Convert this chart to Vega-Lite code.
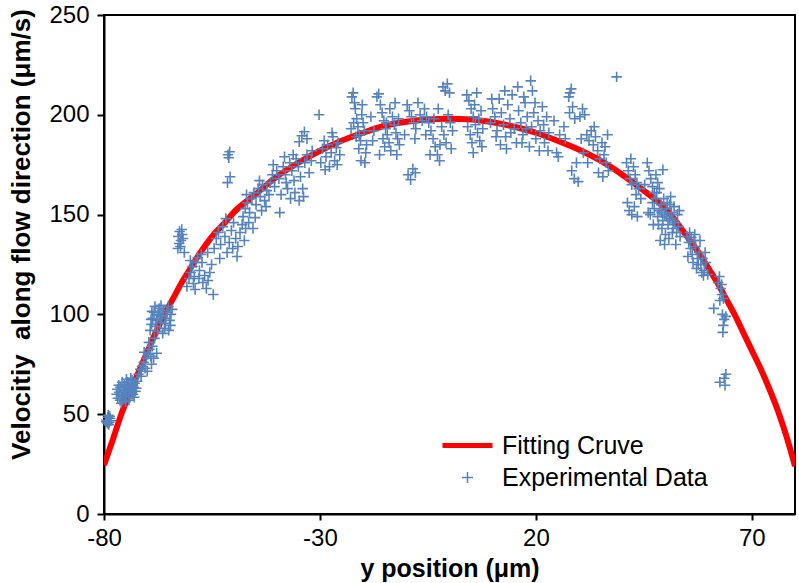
{
"$schema": "https://vega.github.io/schema/vega-lite/v6.json",
"width": 691, "height": 499,
"autosize": {"type": "none"},
"padding": {"left": 104, "top": 15, "right": 4, "bottom": 69},
"background": "white",
"config": {
  "view": {"stroke": "black", "strokeWidth": 2},
  "font": "Liberation Sans",
  "axis": {"grid": false, "domainColor": "black", "domainWidth": 2, "tickColor": "black", "tickWidth": 2, "labelFont": "Liberation Sans", "labelFontSize": 24, "labelColor": "black", "titleFont": "Liberation Sans", "titleFontSize": 25, "titleFontWeight": "bold", "titleColor": "black"}
},
"datasets": {
"curve": [{"x":-80,"v":24.5},{"x":-78,"v":37},{"x":-76,"v":50},{"x":-74,"v":61},{"x":-72,"v":71},{"x":-70,"v":81},{"x":-68,"v":91},{"x":-66,"v":100},{"x":-64,"v":108},{"x":-62,"v":116},{"x":-60,"v":123},{"x":-58,"v":130},{"x":-55,"v":139},{"x":-52,"v":146},{"x":-50,"v":151},{"x":-45,"v":160},{"x":-40,"v":169},{"x":-35,"v":176},{"x":-30,"v":182},{"x":-25,"v":187},{"x":-20,"v":191},{"x":-15,"v":194.5},{"x":-10,"v":196.5},{"x":-5,"v":197.7},{"x":0,"v":198},{"x":5,"v":197.7},{"x":10,"v":196.3},{"x":15,"v":194},{"x":20,"v":191},{"x":25,"v":187},{"x":30,"v":182.5},{"x":35,"v":177},{"x":40,"v":170},{"x":45,"v":162},{"x":50,"v":153},{"x":55,"v":139},{"x":58,"v":130},{"x":60,"v":123},{"x":62,"v":116},{"x":64,"v":108},{"x":66,"v":100},{"x":68,"v":91},{"x":70,"v":82},{"x":72,"v":73},{"x":74,"v":63},{"x":76,"v":52},{"x":78,"v":39},{"x":80,"v":24}],
"pts": [
{"x":-79.4,"v":47},{"x":-79.1,"v":48.5},{"x":-78.8,"v":46},{"x":-79.2,"v":45.5},{"x":-78.6,"v":48},{"x":-79.0,"v":49.5},{"x":-78.4,"v":46.8},{"x":-79.5,"v":46.2},{"x":-78.9,"v":44.8},{"x":-78.7,"v":49},
{"x":-76.8,"v":58},{"x":-76.5,"v":61},{"x":-76.2,"v":63.5},{"x":-75.9,"v":59},{"x":-75.7,"v":57},{"x":-75.5,"v":62},{"x":-75.3,"v":65},{"x":-75.1,"v":60},{"x":-74.9,"v":58.5},{"x":-74.7,"v":63},{"x":-74.5,"v":66},{"x":-74.3,"v":61},{"x":-74.1,"v":59},{"x":-73.9,"v":64},{"x":-73.7,"v":62},{"x":-73.5,"v":67},{"x":-73.3,"v":60},{"x":-73.1,"v":63.5},{"x":-72.9,"v":65.5},{"x":-72.7,"v":61.5},{"x":-76.0,"v":55.5},{"x":-75.0,"v":56.2},{"x":-74.2,"v":57},{"x":-73.0,"v":58.5},{"x":-77.1,"v":60},{"x":-76.6,"v":64.5},{"x":-75.8,"v":66},{"x":-74.8,"v":67.5},{"x":-73.8,"v":68},{"x":-72.5,"v":63},{"x":-75.4,"v":59.5},{"x":-74.6,"v":60.5},{"x":-73.6,"v":60},{"x":-76.3,"v":57},{"x":-74.0,"v":62.5},{"x":-72.3,"v":66.5},{"x":-75.2,"v":63.8},{"x":-73.4,"v":65},{"x":-74.4,"v":64.2},{"x":-76.9,"v":62.5},
{"x":-72.0,"v":70},{"x":-71.6,"v":72.5},{"x":-71.2,"v":74},{"x":-70.8,"v":76},{"x":-70.5,"v":73},{"x":-70.2,"v":78},{"x":-69.8,"v":80},{"x":-69.5,"v":82.5},{"x":-69.2,"v":79},{"x":-68.8,"v":84},{"x":-71.4,"v":69},{"x":-70.0,"v":71.5},{"x":-69.0,"v":75},{"x":-68.5,"v":78},{"x":-67.8,"v":80.5},{"x":-70.7,"v":81},{"x":-69.6,"v":86},{"x":-68.3,"v":88},
{"x":-69.3,"v":92},{"x":-69.0,"v":95},{"x":-68.7,"v":98},{"x":-68.4,"v":101},{"x":-68.1,"v":94},{"x":-67.8,"v":97},{"x":-67.5,"v":100},{"x":-67.2,"v":103},{"x":-66.9,"v":96},{"x":-66.6,"v":99},{"x":-66.3,"v":102},{"x":-66.0,"v":93},{"x":-65.7,"v":98},{"x":-65.4,"v":101},{"x":-65.1,"v":104},{"x":-64.8,"v":97},{"x":-64.5,"v":100},{"x":-64.2,"v":102.5},{"x":-68.9,"v":101.5},{"x":-67.6,"v":91.5},{"x":-66.4,"v":90.5},{"x":-65.0,"v":92},{"x":-68.2,"v":104},{"x":-66.8,"v":104.5},{"x":-65.8,"v":95.5},{"x":-67.0,"v":99.5},{"x":-64.6,"v":94.5},{"x":-69.1,"v":97.5},
{"x":-62.8,"v":139},{"x":-62.5,"v":141.5},{"x":-62.2,"v":137},{"x":-61.9,"v":140},{"x":-62.6,"v":135.5},{"x":-62.0,"v":142.5},{"x":-61.7,"v":138},{"x":-62.3,"v":134},{"x":-61.4,"v":131},{"x":-62.9,"v":133},
{"x":-60.8,"v":114},{"x":-60.3,"v":118},{"x":-59.9,"v":121},{"x":-59.5,"v":124},{"x":-59.1,"v":119},{"x":-58.7,"v":126},{"x":-58.3,"v":128.5},{"x":-57.9,"v":122},{"x":-57.5,"v":130},{"x":-57.1,"v":116},{"x":-56.7,"v":119.5},{"x":-56.3,"v":113},{"x":-55.9,"v":117},{"x":-55.5,"v":121},{"x":-55.1,"v":125},{"x":-54.7,"v":110},{"x":-60.0,"v":127},{"x":-58.9,"v":112.5},{"x":-57.3,"v":126},{"x":-56.0,"v":131},{"x":-59.3,"v":115.5},{"x":-58.0,"v":118},
{"x":-54.5,"v":133},{"x":-54.0,"v":138},{"x":-53.5,"v":141},{"x":-53.0,"v":135},{"x":-52.5,"v":144},{"x":-52.0,"v":139},{"x":-51.5,"v":131},{"x":-51.0,"v":136},{"x":-50.5,"v":142},{"x":-50.0,"v":146},{"x":-49.5,"v":138},{"x":-49.0,"v":134},{"x":-48.5,"v":141},{"x":-48.0,"v":145},{"x":-47.5,"v":137},{"x":-53.2,"v":128},{"x":-51.8,"v":148},{"x":-50.2,"v":133},{"x":-49.2,"v":129},{"x":-47.2,"v":143},
{"x":-51.3,"v":180},{"x":-50.9,"v":181.5},{"x":-51.1,"v":178.5},{"x":-50.8,"v":169},{"x":-51.4,"v":166},
{"x":-47.8,"v":149},{"x":-47.3,"v":153},{"x":-46.8,"v":156},{"x":-46.3,"v":151},{"x":-45.8,"v":158},{"x":-45.3,"v":161},{"x":-44.8,"v":155},{"x":-44.3,"v":163},{"x":-43.8,"v":159},{"x":-43.3,"v":165},{"x":-42.8,"v":157},{"x":-42.3,"v":162},{"x":-46.5,"v":146},{"x":-45.0,"v":148.5},{"x":-43.5,"v":152},{"x":-47.0,"v":160},{"x":-44.0,"v":167},{"x":-42.5,"v":154},{"x":-45.5,"v":143},{"x":-41.8,"v":160},
{"x":-41.5,"v":166},{"x":-41.0,"v":170},{"x":-40.5,"v":164},{"x":-40.0,"v":172},{"x":-39.5,"v":168},{"x":-39.0,"v":160},{"x":-38.5,"v":174},{"x":-38.0,"v":170},{"x":-37.5,"v":163},{"x":-37.0,"v":176},{"x":-36.5,"v":172},{"x":-36.0,"v":167},{"x":-35.5,"v":178},{"x":-35.0,"v":174},{"x":-34.5,"v":169},{"x":-34.0,"v":163},{"x":-33.5,"v":176},{"x":-33.0,"v":180},{"x":-32.5,"v":171},{"x":-32.0,"v":177},{"x":-39.3,"v":151},{"x":-36.8,"v":158},{"x":-35.8,"v":161},{"x":-34.8,"v":157},{"x":-40.8,"v":175},{"x":-38.2,"v":179},{"x":-33.8,"v":159},{"x":-31.8,"v":182},{"x":-37.8,"v":166},{"x":-36.2,"v":180},
{"x":-34.8,"v":186.5},{"x":-34.2,"v":189.5},{"x":-33.6,"v":191.5},{"x":-33.0,"v":188},{"x":-30.2,"v":200},
{"x":-29.8,"v":176},{"x":-29.4,"v":183},{"x":-29.0,"v":187},{"x":-28.6,"v":179},{"x":-28.2,"v":185},{"x":-27.8,"v":174},{"x":-27.4,"v":181},{"x":-27.0,"v":189},{"x":-26.6,"v":177},{"x":-26.2,"v":183.5},{"x":-25.8,"v":186},{"x":-25.4,"v":180},{"x":-28.8,"v":172.5},{"x":-27.2,"v":191},{"x":-26.0,"v":175},
{"x":-22.6,"v":209},{"x":-22.3,"v":211},{"x":-22.0,"v":206},{"x":-21.8,"v":203},{"x":-21.5,"v":198},{"x":-21.2,"v":194},{"x":-20.9,"v":190},{"x":-20.6,"v":187},{"x":-20.3,"v":200},{"x":-20.0,"v":196},{"x":-19.7,"v":192},{"x":-19.4,"v":181},{"x":-20.5,"v":177},{"x":-21.0,"v":183},{"x":-22.2,"v":196},{"x":-21.6,"v":189},{"x":-19.2,"v":185},{"x":-20.2,"v":205},{"x":-22.8,"v":193},{"x":-19.6,"v":176},
{"x":-16.8,"v":209},{"x":-16.4,"v":210.5},{"x":-16.0,"v":205},{"x":-15.6,"v":201},{"x":-15.2,"v":197},{"x":-14.8,"v":193},{"x":-14.4,"v":190},{"x":-14.0,"v":186},{"x":-13.6,"v":182},{"x":-13.2,"v":199},{"x":-12.8,"v":195},{"x":-12.4,"v":191},{"x":-12.0,"v":188},{"x":-11.6,"v":185},{"x":-16.2,"v":180},{"x":-15.0,"v":184},{"x":-13.8,"v":203},{"x":-12.6,"v":206},{"x":-11.8,"v":198},{"x":-14.6,"v":196},{"x":-17.5,"v":192},{"x":-18.2,"v":199},{"x":-17.8,"v":187},{"x":-15.4,"v":188},{"x":-12.2,"v":180},
{"x":-9.8,"v":205},{"x":-9.3,"v":202},{"x":-8.8,"v":199},{"x":-8.3,"v":196},{"x":-7.8,"v":193},{"x":-7.3,"v":206},{"x":-6.8,"v":200},{"x":-6.3,"v":197},{"x":-9.6,"v":170},{"x":-9.0,"v":167.5},{"x":-8.5,"v":173},{"x":-7.9,"v":171},{"x":-10.4,"v":190},{"x":-8.0,"v":188},
{"x":-5.8,"v":203},{"x":-5.3,"v":199},{"x":-4.8,"v":196},{"x":-4.3,"v":192},{"x":-3.8,"v":188},{"x":-3.3,"v":184},{"x":-2.8,"v":180},{"x":-2.3,"v":177},{"x":-1.8,"v":194},{"x":-1.3,"v":190},{"x":-0.8,"v":186},{"x":-0.3,"v":200},{"x":0.2,"v":196},{"x":0.7,"v":192},{"x":-1.5,"v":214},{"x":-1.0,"v":212},{"x":-0.5,"v":215.5},{"x":0.0,"v":211},{"x":-4.5,"v":180},{"x":-3.6,"v":198},{"x":-2.2,"v":185},{"x":-5.5,"v":190},{"x":-2.6,"v":203},{"x":0.4,"v":183},
{"x":4.0,"v":210},{"x":4.5,"v":207},{"x":5.0,"v":203},{"x":5.5,"v":199},{"x":6.0,"v":195},{"x":6.5,"v":191},{"x":7.0,"v":187},{"x":7.5,"v":184},{"x":4.2,"v":194},{"x":4.8,"v":190},{"x":5.2,"v":186},{"x":5.8,"v":205},{"x":6.3,"v":211},{"x":6.8,"v":198},{"x":7.3,"v":202},{"x":7.7,"v":193},{"x":5.5,"v":181},
{"x":9.5,"v":196},{"x":10.0,"v":203},{"x":10.5,"v":199},{"x":11.0,"v":192},{"x":11.5,"v":208},{"x":12.0,"v":201},{"x":12.5,"v":195},{"x":13.0,"v":189},{"x":13.5,"v":205},{"x":14.0,"v":198},{"x":14.5,"v":210},{"x":15.0,"v":193},{"x":15.5,"v":186},{"x":16.0,"v":202},{"x":16.5,"v":196},{"x":17.0,"v":190},{"x":17.5,"v":206},{"x":18.0,"v":199},{"x":18.5,"v":184},{"x":19.0,"v":194},{"x":19.5,"v":201},{"x":20.0,"v":188},{"x":20.5,"v":197},{"x":21.0,"v":192},{"x":21.5,"v":204},{"x":22.0,"v":186},{"x":22.5,"v":199},{"x":18.8,"v":217},{"x":19.2,"v":212},{"x":17.2,"v":209},{"x":15.8,"v":214},{"x":13.2,"v":183},{"x":11.8,"v":185},{"x":20.8,"v":182},{"x":16.8,"v":186},{"x":14.2,"v":191},{"x":12.8,"v":212},{"x":10.8,"v":189},{"x":21.8,"v":195},{"x":9.8,"v":208},{"x":23.0,"v":191},{"x":22.8,"v":182},{"x":17.8,"v":193},{"x":19.8,"v":206},
{"x":24.2,"v":197},{"x":24.8,"v":181},{"x":25.5,"v":190},{"x":27.6,"v":209},{"x":27.9,"v":211},{"x":28.2,"v":213},{"x":27.8,"v":201},{"x":28.5,"v":204},{"x":29.0,"v":198},{"x":26.5,"v":194},{"x":28.3,"v":172},{"x":28.9,"v":168},{"x":29.4,"v":176},{"x":29.8,"v":166.5},{"x":25.2,"v":179},{"x":26.8,"v":188},
{"x":38.7,"v":219},
{"x":30.2,"v":199},{"x":30.8,"v":203},{"x":31.3,"v":200},{"x":31.8,"v":190},{"x":32.3,"v":187},{"x":32.8,"v":192},{"x":33.3,"v":185},{"x":33.8,"v":189},{"x":34.3,"v":182},{"x":34.8,"v":178},{"x":35.3,"v":186},{"x":35.8,"v":180},{"x":36.3,"v":176},{"x":36.8,"v":172},{"x":35.5,"v":169},{"x":31.0,"v":181},{"x":32.0,"v":176},{"x":33.5,"v":194},{"x":34.5,"v":171},{"x":36.0,"v":184},{"x":30.5,"v":188},{"x":36.6,"v":190},
{"x":41.0,"v":176},{"x":41.4,"v":172},{"x":41.8,"v":168},{"x":42.2,"v":165},{"x":42.6,"v":174},{"x":43.0,"v":170},{"x":43.4,"v":166},{"x":43.8,"v":163},{"x":42.0,"v":178},{"x":43.2,"v":160},{"x":41.2,"v":156},{"x":41.6,"v":152},{"x":42.2,"v":150},{"x":42.8,"v":154},{"x":43.5,"v":149},{"x":45.8,"v":176},{"x":46.2,"v":172},{"x":46.6,"v":168},{"x":47.0,"v":164},{"x":47.4,"v":161},{"x":47.8,"v":170},{"x":48.2,"v":166},{"x":48.6,"v":163},{"x":46.0,"v":151},{"x":49.4,"v":172.5},{"x":44.3,"v":158},{"x":45.2,"v":165},
{"x":46.5,"v":150},{"x":47.0,"v":156},{"x":47.4,"v":153},{"x":47.8,"v":158},{"x":48.2,"v":149},{"x":48.6,"v":152},{"x":49.0,"v":155},{"x":49.4,"v":147},{"x":49.8,"v":150},{"x":50.2,"v":153},{"x":50.6,"v":145},{"x":51.0,"v":148},{"x":51.4,"v":151},{"x":51.8,"v":143},{"x":52.2,"v":146},{"x":52.6,"v":141},{"x":53.0,"v":144},{"x":53.4,"v":139},{"x":48.4,"v":145},{"x":49.2,"v":143},{"x":50.0,"v":140},{"x":50.8,"v":138},{"x":51.6,"v":141},{"x":49.6,"v":158},{"x":50.4,"v":156},{"x":51.2,"v":159},{"x":52.0,"v":154},{"x":52.8,"v":150},{"x":48.0,"v":161},{"x":48.8,"v":137},{"x":49.8,"v":135},{"x":47.2,"v":145},{"x":51.0,"v":155},{"x":52.4,"v":135},{"x":50.3,"v":149},{"x":49.1,"v":151},{"x":51.7,"v":147},{"x":53.2,"v":152},
{"x":55.0,"v":139},{"x":55.4,"v":136},{"x":55.8,"v":133},{"x":56.2,"v":130},{"x":56.6,"v":137},{"x":57.0,"v":134},{"x":57.4,"v":128},{"x":57.8,"v":131},{"x":58.2,"v":125},{"x":58.6,"v":128},{"x":59.0,"v":122},{"x":59.4,"v":126},{"x":59.8,"v":120},{"x":55.6,"v":141},{"x":56.4,"v":126},{"x":57.2,"v":123},{"x":58.0,"v":137},{"x":58.8,"v":119.5},{"x":56.8,"v":140},{"x":57.6,"v":125},{"x":59.2,"v":131},{"x":55.2,"v":129},{"x":58.4,"v":121},{"x":56.0,"v":138.5},
{"x":62.2,"v":116},{"x":62.5,"v":119},{"x":62.8,"v":113},{"x":63.1,"v":110},{"x":63.4,"v":108},{"x":62.6,"v":107},{"x":63.0,"v":115},{"x":61.2,"v":103},{"x":63.2,"v":100},{"x":63.6,"v":97.5},{"x":64.0,"v":99},{"x":63.4,"v":94.5},{"x":63.3,"v":91},{"x":62.6,"v":66},{"x":63.6,"v":68},{"x":64.0,"v":70},{"x":63.8,"v":64.5}
]
},
"encoding": {
  "x": {"field": "x", "type": "quantitative", "scale": {"domain": [-80, 80], "nice": false, "zero": false},
        "axis": {"values": [-80, -30, 20, 70], "labelExpr": "'' + datum.value", "title": "y position (μm)", "tickSize": 6, "labelPadding": 25, "labelBaseline": "alphabetic", "titleY": 62, "titleBaseline": "alphabetic", "labelFlush": false}},
  "y": {"field": "v", "type": "quantitative", "scale": {"domain": [0, 250], "nice": false},
        "axis": {"values": [0, 50, 100, 150, 200, 250], "labelExpr": "'' + datum.value", "title": "Velocitiy \u00a0along flow direction (μm/s)", "titleFontSize": 26, "tickSize": 7, "labelPadding": 8, "titleX": -70, "titleY": 219, "titleBaseline": "bottom", "labelFlush": false}}
},
"layer": [
  {"data": {"name": "curve"},
   "mark": {"type": "line", "strokeWidth": 6, "interpolate": "monotone", "clip": true},
   "encoding": {"color": {"datum": "Fitting Cruve", "type": "nominal",
      "scale": {"domain": ["Fitting Cruve", "Experimental Data"], "range": ["#ff0000", "#5583bd"]},
      "legend": {"title": null, "orient": "none", "legendX": 351, "legendY": 418, "padding": 0, "symbolSize": 400, "labelFont": "Liberation Sans", "labelFontSize": 25, "labelColor": "black", "labelOffset": 22, "labelLimit": 0, "rowPadding": 6,
        "encode": {"symbols": {"update": {
          "shape": {"signal": "datum.value === 'Fitting Cruve' ? 'M-2.5,0L2.5,0' : 'M-0.55,0L0.55,0M0,-0.55L0,0.55'"},
          "strokeWidth": {"signal": "datum.value === 'Fitting Cruve' ? 5 : 1.5"},
          "fill": {"value": "transparent"},
          "stroke": {"signal": "datum.value === 'Fitting Cruve' ? '#ff0000' : '#5583bd'"},
          "opacity": {"value": 1}, "strokeOpacity": {"value": 1}}}}}}}},
  {"data": {"name": "pts"},
   "mark": {"type": "point", "shape": "M-1,0L1,0M0,-1L0,1", "size": 110, "filled": false, "strokeWidth": 1.6, "opacity": 1},
   "encoding": {"color": {"datum": "Experimental Data", "type": "nominal"}}}
]
}
